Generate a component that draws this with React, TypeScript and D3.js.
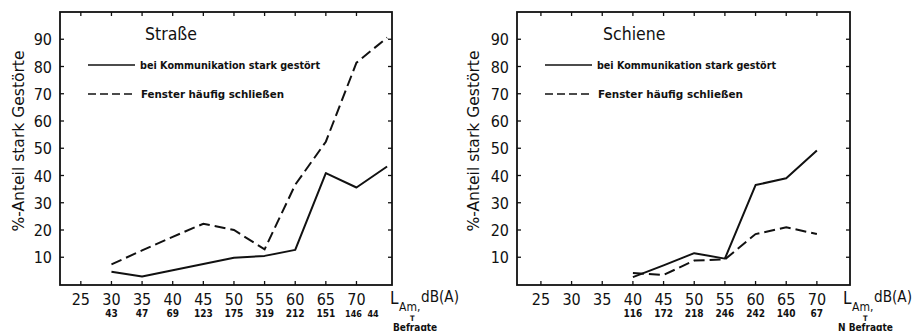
import React from "react";
import * as d3 from "d3";

// Straße (road noise)
const strasseLevels = [30, 35, 40, 45, 50, 55, 60, 65, 70, 75];
const strasseKommunikation = [4.7, 2.9, 5.2, 7.5, 9.8, 10.5, 12.7, 40.9, 35.6, 43.3];
const strasseFenster = [7.4, 12.5, 17.5, 22.3, 20, 12.9, 36.6, 52.4, 81.4, 90.6];
const strasseBefragte = [43, 47, 69, 123, 175, 319, 212, 151, 146, 44];

// Schiene (rail noise)
const schieneLevels = [40, 45, 50, 55, 60, 65, 70];
const schieneKommunikation = [2.7, 7, 11.5, 9.5, 36.5, 39, 49.2];
const schieneFenster = [4.2, 3.5, 8.8, 9.2, 18.5, 21, 18.5];
const schieneBefragte = [116, 172, 218, 246, 242, 140, 67];

const xTicks = [25, 30, 35, 40, 45, 50, 55, 60, 65, 70];
const yTicks = [10, 20, 30, 40, 50, 60, 70, 80, 90];

const legendSolid = "bei Kommunikation stark gestört";
const legendDashed = "Fenster häufig schließen";
const yTitle = "%-Anteil stark Gestörte";

const FONT = "'DejaVu Sans Condensed', 'DejaVu Sans', sans-serif";
const DASH = "11,5";

type PanelProps = {
  title: string;
  levels: number[];
  solid: number[];
  dashed: number[];
  counts: number[];
  left: number;
  right: number;
  xDomain: [number, number];
  unitX: number;
  countLabel: string;
  countLabelX: number;
  squeezeLast: boolean;
  titleX: number;
  yTitleX: number;
  legendWidths: [number, number];
};

function Panel(p: PanelProps) {
  const top = 12;
  const bottom = 285;
  const x = d3.scaleLinear().domain(p.xDomain).range([p.left, p.right]);
  const y = d3.scaleLinear().domain([0, 100]).range([284.5, top]);

  const line = d3
    .line<number>()
    .x((_, i) => x(p.levels[i]))
    .y((d) => y(d));

  const lgX = p.left + 28;
  const last = p.counts.length - 1;
  // the last count sits squeezed next to its neighbour in the original
  const countNudge = (i: number) =>
    !p.squeezeLast ? 0 : i === last ? -14 : i === last - 1 ? -3 : 0;

  return (
    <g fontFamily={FONT} fill="#111">
      {/* frame */}
      <rect
        x={p.left}
        y={top}
        width={p.right - p.left}
        height={bottom - top}
        fill="none"
        stroke="#111"
        strokeWidth={1.8}
      />
      {xTicks.map((t) => (
        <g key={"xt" + t}>
          <line x1={x(t)} x2={x(t)} y1={bottom} y2={bottom - 4} stroke="#111" strokeWidth={1.3} />
          <line x1={x(t)} x2={x(t)} y1={top} y2={top + 4} stroke="#111" strokeWidth={1.3} />
          <text x={x(t)} y={305} fontSize={16} textAnchor="middle">
            {t}
          </text>
        </g>
      ))}
      {yTicks.map((t) => (
        <g key={"yt" + t}>
          <line x1={p.left} x2={p.left + 4} y1={y(t)} y2={y(t)} stroke="#111" strokeWidth={1.3} />
          <line x1={p.right} x2={p.right - 4} y1={y(t)} y2={y(t)} stroke="#111" strokeWidth={1.3} />
          <text x={p.left - 8} y={y(t) + 6} fontSize={16} textAnchor="end">
            {t}
          </text>
        </g>
      ))}

      {/* axis title */}
      <text
        transform={`translate(${p.yTitleX},141) rotate(-90)`}
        fontSize={16}
        textAnchor="middle"
        textLength={181}
        lengthAdjust="spacingAndGlyphs"
      >
        {yTitle}
      </text>

      {/* unit label */}
      <text x={p.unitX} y={304} fontSize={17}>L</text>
      <text x={p.unitX + 9} y={310.5} fontSize={12}>Am,</text>
      <text x={p.unitX + 20} y={320.5} fontSize={7.5} fontWeight="bold">T</text>
      <text x={p.unitX + 31} y={302} fontSize={16} textLength={38} lengthAdjust="spacingAndGlyphs">
        dB(A)
      </text>
      <text x={p.countLabelX} y={330.5} fontSize={10} fontWeight="bold">
        {p.countLabel}
      </text>

      {p.counts.map((n, i) => (
        <text
          key={"n" + i}
          x={x(p.levels[i]) + countNudge(i)}
          y={317}
          fontSize={p.squeezeLast && i >= last - 1 ? 9 : 10}
          fontWeight="bold"
          textAnchor="middle"
        >
          {n}
        </text>
      ))}

      {/* title + legend */}
      <text x={p.titleX} y={40} fontSize={17.5}>
        {p.title}
      </text>
      <line x1={lgX} x2={lgX + 47} y1={65} y2={65} stroke="#111" strokeWidth={1.6} />
      <text
        x={lgX + 52}
        y={68.5}
        fontSize={11}
        fontWeight="bold"
        textLength={p.legendWidths[0]}
        lengthAdjust="spacingAndGlyphs"
      >
        {legendSolid}
      </text>
      <line
        x1={lgX}
        x2={lgX + 48}
        y1={94}
        y2={94}
        stroke="#111"
        strokeWidth={1.6}
        strokeDasharray="8,4"
      />
      <text
        x={lgX + 53}
        y={97.5}
        fontSize={11}
        fontWeight="bold"
        textLength={p.legendWidths[1]}
        lengthAdjust="spacingAndGlyphs"
      >
        {legendDashed}
      </text>

      {/* data */}
      <path d={line(p.solid) ?? ""} fill="none" stroke="#111" strokeWidth={2} strokeLinejoin="round" />
      <path
        d={line(p.dashed) ?? ""}
        fill="none"
        stroke="#111"
        strokeWidth={2}
        strokeDasharray={DASH}
      />
    </g>
  );
}

export default function App() {
  return (
    <svg
      width={923}
      height={331}
      style={{ position: "absolute", left: 0, top: 0, background: "#fff" }}
    >
      <rect width={923} height={331} fill="#fff" />
      <Panel
        title="Straße"
        levels={strasseLevels}
        solid={strasseKommunikation}
        dashed={strasseFenster}
        counts={strasseBefragte}
        left={60}
        right={392}
        xDomain={[21.6, 75.8]}
        unitX={390}
        countLabel="Befragte"
        countLabelX={393}
        squeezeLast={true}
        titleX={145}
        yTitleX={24}
        legendWidths={[180, 143]}
      />
      <Panel
        title="Schiene"
        levels={schieneLevels}
        solid={schieneKommunikation}
        dashed={schieneFenster}
        counts={schieneBefragte}
        left={517}
        right={850}
        xDomain={[21.1, 75.4]}
        unitX={843}
        countLabel="N Befragte"
        countLabelX={838}
        squeezeLast={false}
        titleX={603}
        yTitleX={479}
        legendWidths={[179, 145]}
      />
    </svg>
  );
}
